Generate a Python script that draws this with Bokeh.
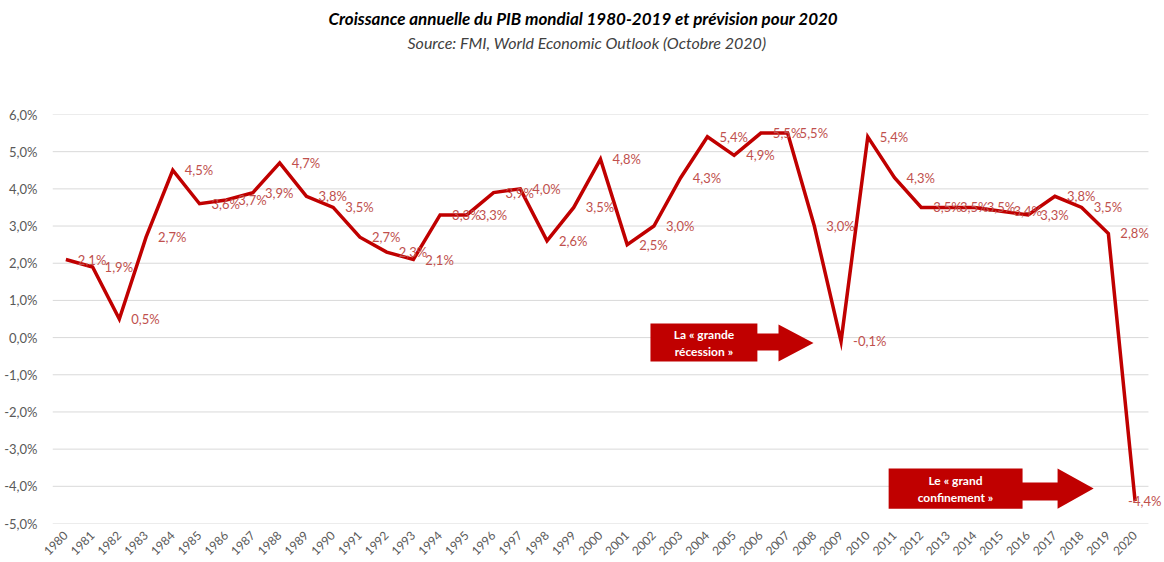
import math
from bokeh.plotting import figure
from bokeh.models import Range1d, FixedTicker, Label, Title, ColumnDataSource
from bokeh.embed import file_html
from bokeh.resources import INLINE
from bokeh.core.properties import value

# ---- data ----
years = list(range(1980, 2021))
growth = [2.1, 1.9, 0.5, 2.7, 4.5, 3.6, 3.7, 3.9, 4.7, 3.8,
          3.5, 2.7, 2.3, 2.1, 3.3, 3.3, 3.9, 4.0, 2.6, 3.5,
          4.8, 2.5, 3.0, 4.3, 5.4, 4.9, 5.5, 5.5, 3.0, -0.1,
          5.4, 4.3, 3.5, 3.5, 3.5, 3.4, 3.3, 3.8, 3.5, 2.8,
          -4.4]
y_ticks = list(range(-5, 7))
title_text = "Croissance annuelle du PIB mondial 1980-2019 et prévision pour 2020"
subtitle_text = "Source: FMI, World Economic Outlook (Octobre 2020)"
annot1 = ["La « grande", "récession »"]
annot2 = ["Le « grand", "confinement »"]

def fmt(v):
    return ("%.1f" % v).replace(".", ",") + "%"

labels = [fmt(v) for v in growth]
# label offsets: to the right of each point, last one pulled back to fit
offsets = [12] * (len(growth) - 1) + [-7]

FONT = "Lato"
LINE_RED = "#C00000"
LABEL_RED = "#C0504D"
GRAY = "#595959"

x0, x1 = years[0] - 0.5, years[-1] + 0.5
p = figure(width=1164, height=562, output_backend="svg", toolbar_location=None,
           title=None,
           x_range=Range1d(x0, x1 + 0.6), y_range=Range1d(y_ticks[0], y_ticks[-1]),
           min_border_left=52, min_border_right=0, min_border_top=114,
           min_border_bottom=39)
p.outline_line_color = None
p.background_fill_color = "white"
p.border_fill_color = "white"

# axes
p.yaxis.ticker = FixedTicker(ticks=y_ticks)
p.yaxis.major_label_overrides = {t: fmt(float(t)) for t in y_ticks}
p.yaxis.axis_line_color = None
p.yaxis.major_tick_line_color = None
p.yaxis.minor_tick_line_color = None
p.yaxis.major_label_standoff = 9
p.yaxis.major_label_text_color = GRAY
p.yaxis.major_label_text_font = FONT
p.yaxis.major_label_text_font_size = "13px"

p.xaxis.ticker = FixedTicker(ticks=years)
p.xaxis.axis_line_color = None
p.xaxis.major_tick_line_color = None
p.xaxis.minor_tick_line_color = None
p.xaxis.major_label_orientation = math.pi / 4
p.xaxis.major_label_standoff = 4
p.xaxis.major_label_text_color = GRAY
p.xaxis.major_label_text_font = FONT
p.xaxis.major_label_text_font_size = "12px"

p.xgrid.grid_line_color = None
p.ygrid.grid_line_color = None
# horizontal gridlines spanning the category area only
p.segment(x0=[x0] * len(y_ticks), x1=[x1] * len(y_ticks), y0=y_ticks, y1=y_ticks,
          line_color="#D9D9D9", line_width=1)

src = ColumnDataSource(dict(x=years, y=growth, t=labels, dx=offsets))
p.line("x", "y", source=src, line_color=LINE_RED, line_width=3.5, line_join="miter")
p.text("x", "y", text="t", source=src, x_offset="dx", text_align="left",
       text_baseline="middle", text_color=LABEL_RED, text_font=value(FONT),
       text_font_size="13px")

# ---- annotation arrows (data coordinates) ----
def arrow(bx0, bx1, xh, xt, yb0, yb1, ys0, ys1, yh0, yh1):
    yt = (yh0 + yh1) / 2
    xs = [bx0, bx1, bx1, xh, xh, xt, xh, xh, bx1, bx1, bx0]
    ys = [yb0, yb0, ys0, ys0, yh0, yt, yh1, ys1, ys1, yb1, yb1]
    p.patch(xs, ys, fill_color=LINE_RED, line_color=None)

arrow(2001.87, 2005.87, 2006.66, 2007.97, 0.38, -0.64, 0.11, -0.35, 0.35, -0.64)
arrow(2010.78, 2015.79, 2017.1, 2018.45, -3.52, -4.6, -3.9, -4.38, -3.52, -4.6)

for (cx, cy, lines) in [(2003.87, -0.13, annot1), (2013.28, -4.06, annot2)]:
    p.add_layout(Label(x=cx, y=cy, text=lines[0], y_offset=8, text_align="center",
                       text_baseline="middle", text_color="white", text_font=FONT,
                       text_font_style="bold", text_font_size="12px"))
    p.add_layout(Label(x=cx, y=cy, text=lines[1], y_offset=-9, text_align="center",
                       text_baseline="middle", text_color="white", text_font=FONT,
                       text_font_style="bold", text_font_size="12px"))

# ---- titles (spacer nearest the frame, then subtitle, then main title) ----
p.add_layout(Title(text=" ", standoff=60, text_font_size="1px"), "above")
p.add_layout(Title(text=subtitle_text, align="left", offset=355, standoff=0,
                   text_color="#404040", text_font=FONT, text_font_style="italic",
                   text_font_size="16px"), "above")
p.add_layout(Title(text=title_text, align="left", offset=276, standoff=4,
                   text_color="#000000", text_font=FONT, text_font_style="bold italic",
                   text_font_size="17px"), "above")

open("out.html", "w").write(file_html(p, INLINE))
